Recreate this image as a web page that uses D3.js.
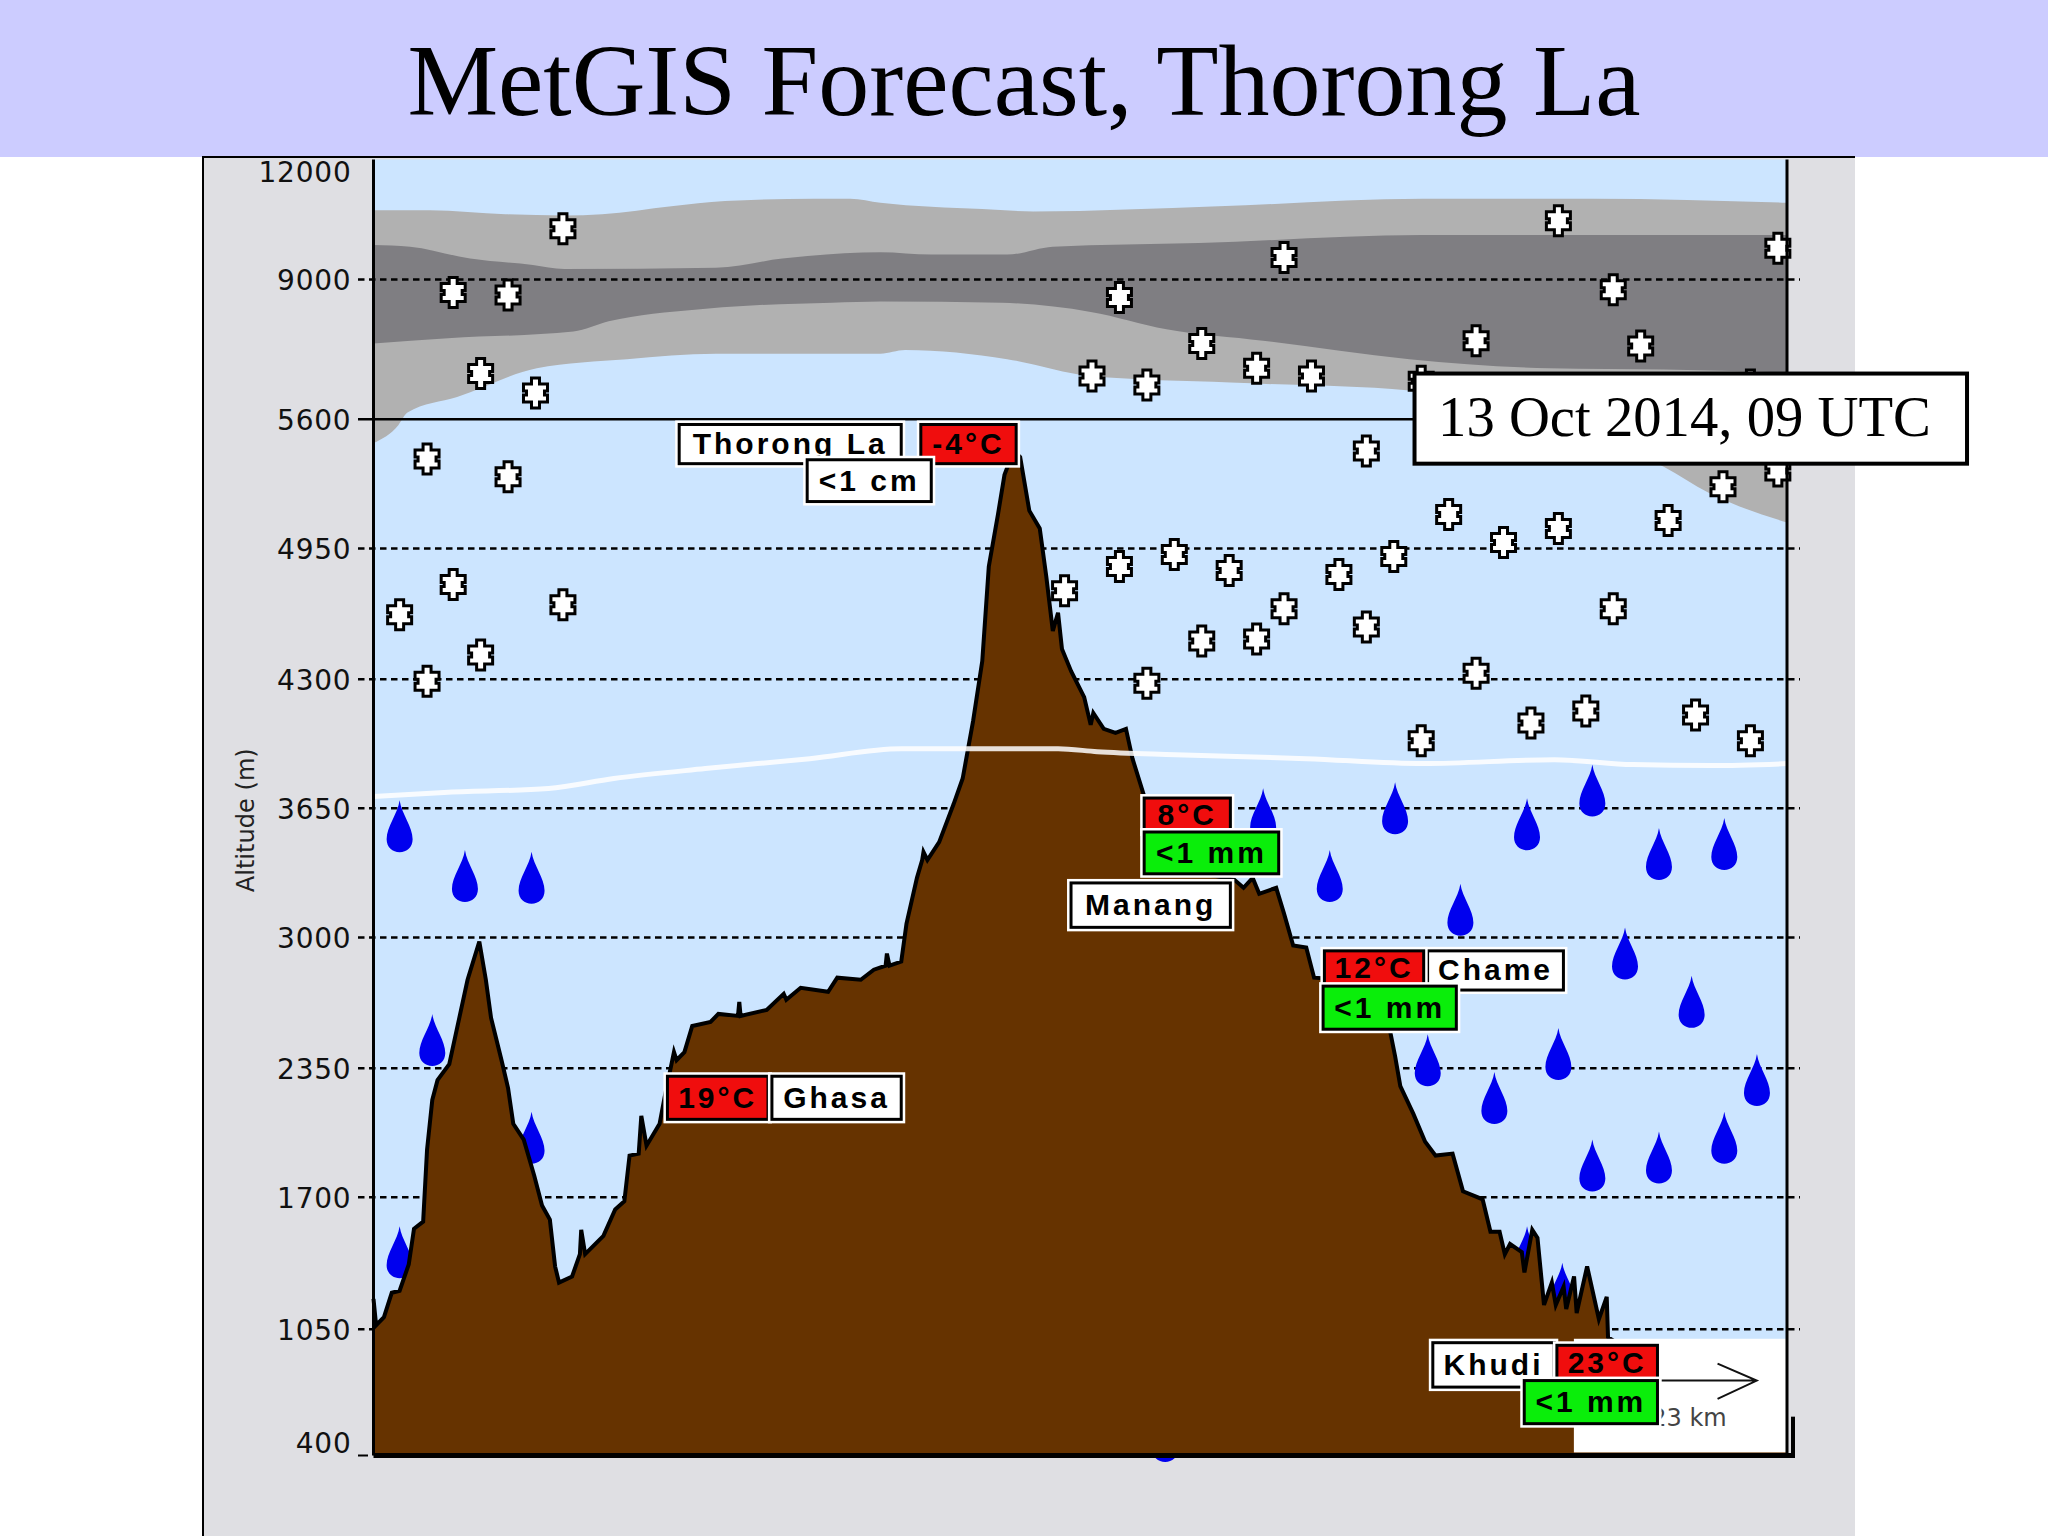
<!DOCTYPE html>
<html>
<head>
<meta charset="utf-8">
<script src="https://cdn.jsdelivr.net/npm/d3@7"></script>
<style>
  html, body { margin: 0; padding: 0; background: #fff; }
  svg { display: block; }
</style>
</head>
<body>
<div id="chart"></div>
<script>
// Altitude axis is piecewise, ticks are not evenly spaced in metres.
const yTicks = [400, 1050, 1700, 2350, 3000, 3650, 4300, 4950, 5600, 9000, 12000];

// Route profile, km along the track and altitude in m.
const terrainKm = [0, 0.2, 0.8, 1.4, 2.0, 2.7, 3.1, 3.8, 4.1, 4.5, 4.9, 5.8, 6.6, 7.2, 8.1, 8.6, 9.0, 9.8, 10.3, 10.7,
  11.5, 12.3, 12.9, 13.5, 13.9, 14.2, 15.2, 15.8, 15.9, 16.2, 17.6, 18.5, 19.2, 19.6, 20.3, 20.5, 20.9, 21.9, 22.3, 23.0,
  23.2, 23.8, 24.4, 25.8, 26.4, 27.9, 28.0, 28.1, 30.1, 31.4, 31.6, 32.7, 34.8, 35.5, 37.3, 38.3, 39.2, 39.3, 39.5, 40.4,
  40.8, 41.6, 42.0, 42.1, 42.4, 43.3, 44.4, 45.1, 45.9, 46.6, 47.1, 47.8, 48.3, 49.0, 49.5, 50.2, 51.0, 51.5, 52.0, 52.4,
  52.7, 53.4, 54.4, 54.9, 55.1, 55.9, 56.8, 57.6, 58.1, 59.0, 59.4, 61.4, 65.9, 66.6, 67.3, 67.8, 69.1, 69.7, 70.4, 71.4,
  72.0, 74.4, 77.4, 78.2, 78.6, 79.6, 80.5, 81.3, 82.6, 83.4, 84.9, 85.5, 86.2, 86.6, 87.0, 87.9, 88.1, 88.7, 89.1, 89.6,
  90.2, 90.5, 91.1, 91.3, 91.9, 92.1, 92.9, 93.8, 94.4, 94.5, 95.4, 108.2];
const terrainAlt = [1200, 1070, 1110, 1230, 1240, 1370, 1545, 1580, 1940, 2190, 2290, 2370, 2610, 2790, 2980, 2790, 2600, 2390, 2250, 2070,
  1990, 1810, 1660, 1590, 1360, 1280, 1310, 1420, 1540, 1420, 1510, 1640, 1680, 1910, 1920, 2110, 1960, 2070, 2210, 2430,
  2390, 2430, 2560, 2580, 2620, 2610, 2680, 2610, 2640, 2720, 2690, 2750, 2730, 2800, 2790, 2840, 2860, 2920, 2860, 2880,
  3070, 3300, 3390, 3430, 3390, 3480, 3670, 3800, 4090, 4390, 4860, 5120, 5320, 5440, 5410, 5140, 5050, 4810, 4540, 4630,
  4450, 4340, 4210, 4070, 4130, 4050, 4030, 4050, 3900, 3710, 3520, 3350, 3290, 3250, 3300, 3220, 3250, 3120, 2960, 2950,
  2800, 2790, 2670, 2410, 2260, 2120, 1980, 1910, 1920, 1730, 1690, 1530, 1530, 1420, 1470, 1430, 1330, 1540, 1500, 1170,
  1280, 1170, 1260, 1150, 1310, 1130, 1360, 1100, 1210, 1010, 970, 800];

// Cloud layers, each edge as [km, altitude].
const cloudOuterTop = [[0, 10730], [4.3, 10730], [10.1, 10630], [14.6, 10600], [17.5, 10630], [22.8, 10830], [26.9, 10960], [33.7, 11020],
  [36.5, 11020], [38.8, 10920], [46.6, 10760], [50.5, 10700], [64.7, 10830], [80.3, 11020], [93.4, 11020], [108.2, 10920]];
const cloudOuterBottom = [[0, 5480], [1.9, 5570], [2.6, 5760], [6.4, 6140], [12.5, 6840], [19.4, 7060], [26.2, 7190], [34.4, 7190],
  [38.8, 7190], [40.7, 7280], [48.5, 7060], [54.9, 6650], [65.6, 6490], [79.3, 6300], [90, 5630], [98.8, 5360], [102.2, 5230], [108.2, 5080]];
const cloudInnerTop = [[0, 9860], [2.8, 9820], [7.4, 9520], [12.2, 9360], [14.6, 9260], [26.2, 9290], [31.3, 9520], [38.8, 9680],
  [42.7, 9620], [48.5, 9620], [52.0, 9820], [63.2, 9910], [80.3, 10110], [108.2, 10110]];
const cloudInnerBottom = [[0, 7440], [5.7, 7570], [15.3, 7730], [18.0, 7980], [24.8, 8270], [28.6, 8360], [35.1, 8430], [38.8, 8460],
  [48.1, 8430], [54.9, 8210], [60.7, 7790], [68.1, 7510], [79.3, 7060], [90.0, 6840], [98.8, 6810], [108.2, 6740]];

// Freezing level
const freezeKm = [0, 5.4, 13.4, 18.4, 25.4, 33.4, 40.4, 52.4, 55.4, 61.4, 71.4, 80.4, 90.4, 96.4, 102.4, 108.2];
const freezeAlt = [3710, 3730, 3750, 3800, 3850, 3900, 3950, 3950, 3935, 3920, 3900, 3875, 3895, 3870, 3865, 3875];

// Snow and rain symbols
const snowKm = [2.0, 4.1, 4.1, 6.1, 6.1, 8.2, 8.2, 10.3, 10.3, 12.4, 14.5, 14.5, 52.9, 55.0, 57.1, 57.1, 59.2, 59.2, 61.3, 63.4, 63.4, 65.5, 67.6, 67.6, 69.7, 69.7,
  71.8, 73.9, 76.0, 76.0, 78.1, 80.2, 80.2, 82.3, 84.4, 84.4, 86.5, 88.6, 90.7, 90.7, 92.8, 94.9, 94.9, 97.0, 99.1, 101.2, 103.3, 105.4, 105.4, 107.5, 107.5];
const snowAlt = [4620, 5400, 4290, 8680, 4770, 6710, 4420, 8620, 5310, 6240, 10270, 4670, 4740, 6650, 8560, 4860, 6430, 4280, 4920, 7440, 4490, 4840, 6840, 4500, 9550, 4650,
  6650, 4820, 5440, 4560, 4910, 6520, 3990, 5120, 7510, 4330, 4980, 4080, 10470, 5050, 4140, 8750, 4650, 7380, 5090, 4120, 5260, 6430, 3990, 9780, 5340];
const rainKm = [2.0, 2.0, 4.5, 7.0, 12.1, 12.1, 60.6, 68.1, 73.2, 78.2, 80.7, 83.2, 85.8, 88.3, 88.3, 90.7, 91.0, 93.3, 93.3, 95.8, 98.4, 98.4, 100.9, 103.4, 103.4, 105.9];
const rainAlt = [3560, 1430, 2490, 3310, 3300, 2000, 500, 3620, 3310, 3650, 2390, 3140, 2200, 3570, 1430, 2420, 1250, 3740, 1860, 2920, 3420, 1900, 2680, 3470, 2000, 2290];

const titleText = "MetGIS Forecast, Thorong La";
const dateText = "13 Oct 2014, 09 UTC";
const scaleText = "23 km";

const width = 2048, height = 1536;
const k = width / 1568; // label boxes below were measured on a 1568 wide view

const x = d3.scaleLinear().domain([0, 108.2]).range([373.5, 1787]);
const y = d3.scaleLinear()
  .domain(yTicks)
  .range([1455.5, 1329.3, 1197.3, 1068.2, 937.5, 808.3, 679.2, 548.4, 419.2, 279.4, 159.5]);

const svg = d3.select("#chart").append("svg").attr("width", width).attr("height", height);

// page background pieces
svg.append("rect").attr("x", 0).attr("y", 0).attr("width", width).attr("height", 157).attr("fill", "#ccccff");
svg.append("rect").attr("x", 203).attr("y", 157).attr("width", 1652).attr("height", height - 157).attr("fill", "#dfdfe3");
svg.append("path").attr("d", `M203 ${height}V157H1855`).attr("fill", "none").attr("stroke", "#000").attr("stroke-width", 2);

svg.append("text")
  .attr("x", 1024).attr("y", 115)
  .attr("text-anchor", "middle")
  .attr("font-family", "'Liberation Serif'")
  .attr("font-size", 102)
  .text(titleText);

// sky
svg.append("rect")
  .attr("x", x(0)).attr("y", y(12000))
  .attr("width", x(108.2) - x(0)).attr("height", y(400) - y(12000))
  .attr("fill", "#cce5ff");

// clouds, top edge left to right then bottom edge back
const edge = d3.line().x(d => x(d[0])).y(d => y(d[1]));
const smooth = d3.line().x(d => x(d[0])).y(d => y(d[1])).curve(d3.curveMonotoneX);
function cloudPath(top, bottom) {
  return smooth(top) + "L" + smooth(bottom.slice().reverse()).slice(1) + "Z";
}
svg.append("path").attr("d", cloudPath(cloudOuterTop, cloudOuterBottom)).attr("fill", "#b1b1b1");
svg.append("path").attr("d", cloudPath(cloudInnerTop, cloudInnerBottom)).attr("fill", "#7f7e82");

// grid lines
svg.append("g").selectAll("line")
  .data(yTicks.filter(d => d != 400 && d != 12000))
  .join("line")
  .attr("x1", 358)
  .attr("x2", d => d == 5600 ? x(108.2) : 1800)
  .attr("y1", d => y(d))
  .attr("y2", d => y(d))
  .attr("stroke", "#000")
  .attr("stroke-width", 2.5)
  .attr("stroke-dasharray", d => d == 5600 ? null : "6.5,4.5");

// rain goes behind the terrain
const dropPath = "M0 -26C2 -12 13 0 13 13C13 21 7 26 0 26C-7 26 -13 21 -13 13C-13 0 -2 -12 0 -26Z";
svg.append("g").selectAll("path")
  .data(rainKm)
  .join("path")
  .attr("d", dropPath)
  .attr("fill", "#0000ee")
  .attr("transform", (d, i) => `translate(${x(d)},${y(rainAlt[i])})`);

// snow flakes
const flakePath = "M-4 -15H4V-9H12V-2H9V2H12V9H4V15H-4V9H-12V2H-9V-2H-12V-9H-4Z";
svg.append("g").selectAll("path")
  .data(snowKm)
  .join("path")
  .attr("d", flakePath)
  .attr("fill", "#fff")
  .attr("stroke", "#000")
  .attr("stroke-width", 3)
  .attr("transform", (d, i) => `translate(${x(d)},${y(snowAlt[i])})`);

// terrain
const terrain = terrainKm.map((d, i) => [d, terrainAlt[i]]);
svg.append("path")
  .attr("d", d3.area().x(d => x(d[0])).y0(y(400)).y1(d => y(d[1]))(terrain))
  .attr("fill", "#663300");
svg.append("path")
  .attr("d", edge(terrain))
  .attr("fill", "none")
  .attr("stroke", "#000")
  .attr("stroke-width", 4);

// freezing level
svg.append("path")
  .attr("d", smooth(freezeKm.map((d, i) => [d, freezeAlt[i]])))
  .attr("fill", "none")
  .attr("stroke", "#fff")
  .attr("stroke-opacity", 0.85)
  .attr("stroke-width", 5);

// white legend corner with the distance arrow
svg.append("rect")
  .attr("x", 1205 * k).attr("y", 1025 * k)
  .attr("width", x(108.2) - 1205 * k).attr("height", 87 * k)
  .attr("fill", "#fff");
svg.append("path")
  .attr("d", `M${1150 * k} ${1057 * k}H${1345 * k}M${1315 * k} ${1044 * k}L${1345 * k} ${1057 * k}L${1315 * k} ${1071 * k}`)
  .attr("fill", "none").attr("stroke", "#111").attr("stroke-width", 2);
svg.append("text")
  .attr("x", 1322 * k).attr("y", 1092 * k)
  .attr("text-anchor", "end")
  .attr("font-family", "'DejaVu Sans'")
  .attr("font-size", 24)
  .attr("fill", "#444")
  .text(scaleText);

// axes
const yAxis = d3.axisLeft(y).tickValues(yTicks).tickFormat(d3.format("d")).tickSize(0).tickPadding(22);
const axisG = svg.append("g").attr("transform", `translate(${x(0)},0)`).call(yAxis);
axisG.select(".domain").remove();
axisG.selectAll("text")
  .attr("font-family", "'DejaVu Sans'")
  .attr("font-size", 28)
  .attr("letter-spacing", 0.8)
  .attr("fill", "#111")
  .attr("dy", d => d == 12000 ? 22 : d == 400 ? -3 : 10);

svg.append("path").attr("d", `M${x(0)} ${y(12000)}V${y(400)}`).attr("stroke", "#000").attr("stroke-width", 3);
svg.append("path").attr("d", `M${x(108.2)} ${y(12000)}V${y(400)}`).attr("stroke", "#000").attr("stroke-width", 3);
svg.append("path").attr("d", `M${x(0)} ${y(400)}H${x(108.2) + 8}`).attr("stroke", "#000").attr("stroke-width", 5);
svg.append("path").attr("d", `M${x(108.2) + 6} ${y(400)}V${y(600)}`).attr("stroke", "#000").attr("stroke-width", 4);
svg.append("path").attr("d", `M358 ${y(400)}H368`).attr("stroke", "#000").attr("stroke-width", 2);

svg.append("text")
  .attr("transform", `translate(${254},${628 * k}) rotate(-90)`)
  .attr("text-anchor", "middle")
  .attr("font-family", "'DejaVu Sans'")
  .attr("font-size", 24)
  .attr("textLength", 144)
  .attr("lengthAdjust", "spacingAndGlyphs")
  .attr("fill", "#222")
  .text("Altitude (m)");

// station labels, boxes are given as x0, x1, y0, y1 on the 1568 view
function labelBox(x0, x1, y0, y1, fill, txt) {
  const bx = x0 * k, by = y0 * k, bw = (x1 - x0) * k, bh = (y1 - y0) * k;
  svg.append("rect").attr("x", bx - 4).attr("y", by - 4).attr("width", bw + 8).attr("height", bh + 8).attr("fill", "#fff");
  svg.append("rect").attr("x", bx).attr("y", by).attr("width", bw).attr("height", bh)
    .attr("fill", fill).attr("stroke", "#000").attr("stroke-width", 3);
  svg.append("text")
    .attr("x", bx + bw / 2).attr("y", by + bh / 2 + 10)
    .attr("text-anchor", "middle")
    .attr("font-family", "'Liberation Sans'")
    .attr("font-weight", "bold")
    .attr("font-size", 30)
    .attr("letter-spacing", 3)
    .attr("fill", "#000")
    .text(txt);
}

const red = "#f00d0d", green = "#0aee0a";
labelBox(520, 690, 325, 355, "#fff", "Thorong La");
labelBox(705, 778, 325, 355, red, "-4°C");
labelBox(618, 713, 352, 384, "#fff", "<1 cm");
labelBox(876, 942, 611, 637, red, "8°C");
labelBox(876, 979, 637, 669, green, "<1 mm");
labelBox(820, 942, 676, 710, "#fff", "Manang");
labelBox(1093, 1197, 728, 758, "#fff", "Chame");
labelBox(1014, 1090, 728, 755, red, "12°C");
labelBox(1013, 1115, 755, 788, green, "<1 mm");
labelBox(511, 588, 824, 857, red, "19°C");
labelBox(591, 690, 824, 857, "#fff", "Ghasa");
labelBox(1097, 1190, 1028, 1062, "#fff", "Khudi");
labelBox(1192, 1269, 1030, 1057, red, "23°C");
labelBox(1167, 1269, 1057, 1090, green, "<1 mm");

// date stamp
svg.append("rect")
  .attr("x", 1083 * k).attr("y", 286 * k)
  .attr("width", 423 * k).attr("height", 69 * k)
  .attr("fill", "#fff").attr("stroke", "#000").attr("stroke-width", 4);
svg.append("text")
  .attr("x", 1101 * k).attr("y", 334 * k)
  .attr("font-family", "'Liberation Serif'")
  .attr("font-size", 56.7)
  .text(dateText);
</script>
</body>
</html>
